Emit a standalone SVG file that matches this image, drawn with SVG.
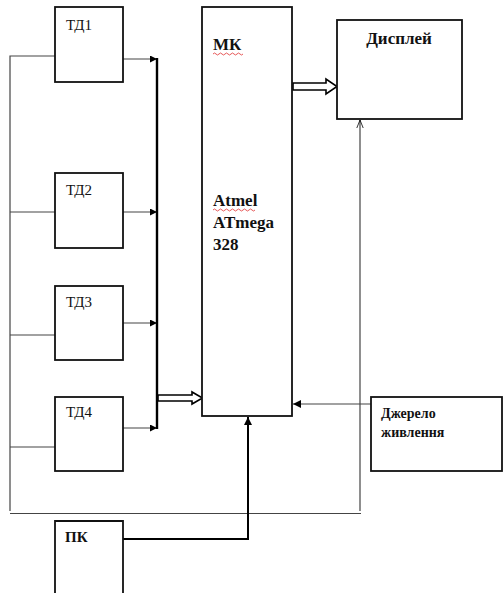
<svg xmlns="http://www.w3.org/2000/svg" width="503" height="593" viewBox="0 0 503 593">
<defs>
<style>
.box{fill:#fff;stroke:#111;stroke-width:1.8}
text{font-family:'Liberation Serif','Times New Roman','DejaVu Serif',serif;fill:#111}
.t{font-size:15px}
.b{font-weight:bold}
.thin{fill:none;stroke:#444;stroke-width:1.2}
.thick{fill:none;stroke:#000;stroke-width:2.4}
.dbl{fill:#fff;stroke:#000;stroke-width:1.6;stroke-linejoin:miter}
.wavy{fill:none;stroke:#e03030;stroke-width:0.8}
</style>
<marker id="ah" viewBox="0 0 10 10" refX="10" refY="5" markerWidth="7" markerHeight="7" markerUnits="userSpaceOnUse" orient="auto">
<path d="M0,0 L10,5 L0,10 z" fill="#000"/>
</marker>
<marker id="ah2" viewBox="0 0 10 10" refX="10" refY="5" markerWidth="8" markerHeight="8" markerUnits="userSpaceOnUse" orient="auto">
<path d="M0,0 L10,5 L0,10 z" fill="#000"/>
</marker>
<marker id="oa" viewBox="0 0 10 10" refX="10" refY="5" markerWidth="8" markerHeight="8" markerUnits="userSpaceOnUse" orient="auto">
<path d="M0,1 L10,5 L0,9" fill="none" stroke="#000" stroke-width="1"/>
</marker>
</defs>

<g id="connectors">
<path class="thin" d="M55,56 H10 V511"/>
<path class="thin" d="M55,212 H10"/>
<path class="thin" d="M55,335 H10"/>
<path class="thin" d="M55,447 H10"/>
<path class="thin" d="M10,513.5 H361"/>
<path class="thin" d="M360,511 V120" marker-end="url(#oa)"/>
<path class="thin" d="M123,59 H157" marker-end="url(#ah)"/>
<path class="thin" d="M123,212 H157" marker-end="url(#ah)"/>
<path class="thin" d="M123,323 H157" marker-end="url(#ah)"/>
<path class="thin" d="M123,428 H157" marker-end="url(#ah)"/>
<path class="thick" d="M157,58 V429"/>
<path class="dbl" d="M158,395 H192 V392 L202.5,398 L192,404 V401 H158 Z"/>
<path class="dbl" d="M293,83 H326 V79 L337,86.5 L326,94 V90 H293 Z"/>
<path class="thin" d="M371,404 H293" stroke="#333" stroke-width="1.4" marker-end="url(#ah2)"/>
<path d="M123,539 H248 V417" fill="none" stroke="#000" stroke-width="2" marker-end="url(#ah2)"/>
</g>

<g id="td1">
<rect class="box" x="55" y="7" width="68" height="75"/>
<text class="t" x="66" y="30">ТД1</text>
</g>
<g id="td2">
<rect class="box" x="55" y="173" width="68" height="75"/>
<text class="t" x="66" y="195">ТД2</text>
</g>
<g id="td3">
<rect class="box" x="55" y="286" width="68" height="74"/>
<text class="t" x="66" y="307">ТД3</text>
</g>
<g id="td4">
<rect class="box" x="55" y="397" width="68" height="74"/>
<text class="t" x="66" y="417">ТД4</text>
</g>

<g id="mk">
<rect class="box" x="202" y="7" width="90" height="409"/>
<text class="b" x="213" y="50" font-size="17">МК</text>
<path class="wavy" d="M213,54 q1.5,-2 3,0 t3,0 t3,0 t3,0 t3,0 t3,0 t3,0 t3,0 t3,0 t3,0"/>
<text class="b" x="213" y="206" font-size="17">Atmel</text>
<path class="wavy" d="M213,210 q1.5,-2 3,0 t3,0 t3,0 t3,0 t3,0 t3,0 t3,0 t3,0 t3,0 t3,0 t3,0 t3,0 t3,0 t3,0"/>
<text class="b" x="213" y="228" font-size="17">ATmega</text>
<text class="b" x="213" y="250" font-size="17">328</text>
</g>

<g id="display">
<rect class="box" x="337" y="20" width="125" height="99"/>
<text class="b" x="399" y="44" font-size="17" text-anchor="middle">Дисплей</text>
</g>

<g id="power">
<rect class="box" x="371" y="397" width="131" height="74"/>
<text class="b" x="381" y="418" font-size="14">Джерело</text>
<text class="b" x="381" y="437" font-size="14">живлення</text>
</g>

<g id="pc">
<path d="M55,595 V521 H123 V595" fill="#fff" stroke="#111" stroke-width="1.8"/>
<text class="b" x="65" y="542" font-size="15">ПК</text>
</g>
</svg>
